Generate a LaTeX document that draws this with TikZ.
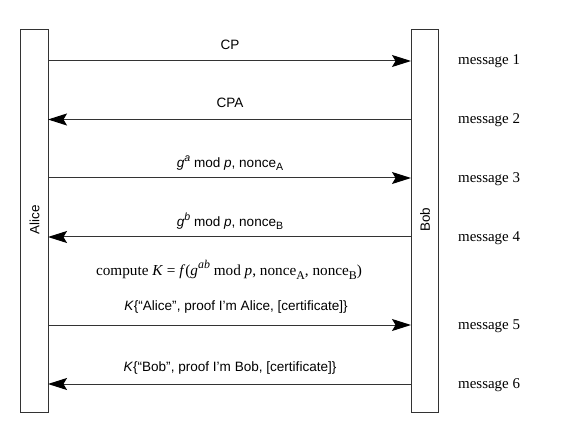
\documentclass[tikz,border=0pt]{standalone}
\usepackage{fontspec}
\setmainfont{Liberation Serif}
\setsansfont{Liberation Sans}
\usetikzlibrary{arrows.meta}
\newcommand{\mysup}[1]{\raisebox{0.45em}{\fontsize{0.78em}{1em}\selectfont #1}}
\newcommand{\mysub}[1]{\raisebox{-0.25em}{\fontsize{0.78em}{1em}\selectfont #1}}
\begin{document}
\begin{tikzpicture}[x=1bp,y=-1bp,
  party/.style={draw=black!80,line width=1bp},
  msg/.style={draw=black!80,line width=1bp,-{Stealth[length=19bp,width=12bp,inset=3.5bp,color=black,fill=black]}},
  lab/.style={font=\sffamily\fontsize{13.6}{15}\selectfont,inner sep=0pt},
  mlab/.style={font=\rmfamily\fontsize{15}{17}\selectfont,anchor=west,inner sep=0pt},
  partylab/.style={font=\sffamily\fontsize{13.5}{15}\selectfont,rotate=90,inner sep=0pt}]
\useasboundingbox (0,0) rectangle (587,433);
% parties
\draw[party] (20.5,30) rectangle (48,412);
\draw[party] (411,30) rectangle (438.5,412);
\node[partylab] (alice) at (34.5,220) {Alice};
\node[partylab] (bob) at (425,220) {Bob};
% lifeline anchor coordinates
\coordinate (a1) at (48,61);   \coordinate (b1) at (411,61);
\coordinate (a2) at (48,119.5);\coordinate (b2) at (411,119.5);
\coordinate (a3) at (48,178);  \coordinate (b3) at (411,178);
\coordinate (a4) at (48,237);  \coordinate (b4) at (411,237);
\coordinate (a5) at (48,325);  \coordinate (b5) at (411,325);
\coordinate (a6) at (48,384);  \coordinate (b6) at (411,384);
% messages
\draw[msg] (a1) -- (b1);
\draw[msg] (b2) -- (a2);
\draw[msg] (a3) -- (b3);
\draw[msg] (b4) -- (a4);
\draw[msg] (a5) -- (b5);
\draw[msg] (b6) -- (a6);
% labels
\node[lab] (l1) at (230,45) {CP};
\node[lab] (l2) at (230,103) {CPA};
\node[lab] (l3) at (230,163) {\textit{g}\mysup{\textit{a}} mod \textit{p}, nonce\mysub{A}};
\node[lab] (l4) at (230,221) {\textit{g}\mysup{\textit{b}} mod \textit{p}, nonce\mysub{B}};
\node[font=\rmfamily\fontsize{15.3}{17}\selectfont,inner sep=0pt] (l0) at (229,270) {compute \textit{K} = \textit{f}(\textit{g}\mysup{\textit{ab}} mod \textit{p}, nonce\mysub{A}, nonce\mysub{B})};
\node[lab] (l5) at (236,307) {\textit{K}\{“Alice”, proof I’m Alice, [certificate]\}};
\node[lab] (l6) at (230,368) {\textit{K}\{“Bob”, proof I’m Bob, [certificate]\}};
% message names
\node[mlab] (m1) at (458,61) {message 1};
\node[mlab] (m2) at (458,120) {message 2};
\node[mlab] (m3) at (458,179) {message 3};
\node[mlab] (m4) at (458,238) {message 4};
\node[mlab] (m5) at (458,326) {message 5};
\node[mlab] (m6) at (458,385) {message 6};
\end{tikzpicture}
\end{document}
